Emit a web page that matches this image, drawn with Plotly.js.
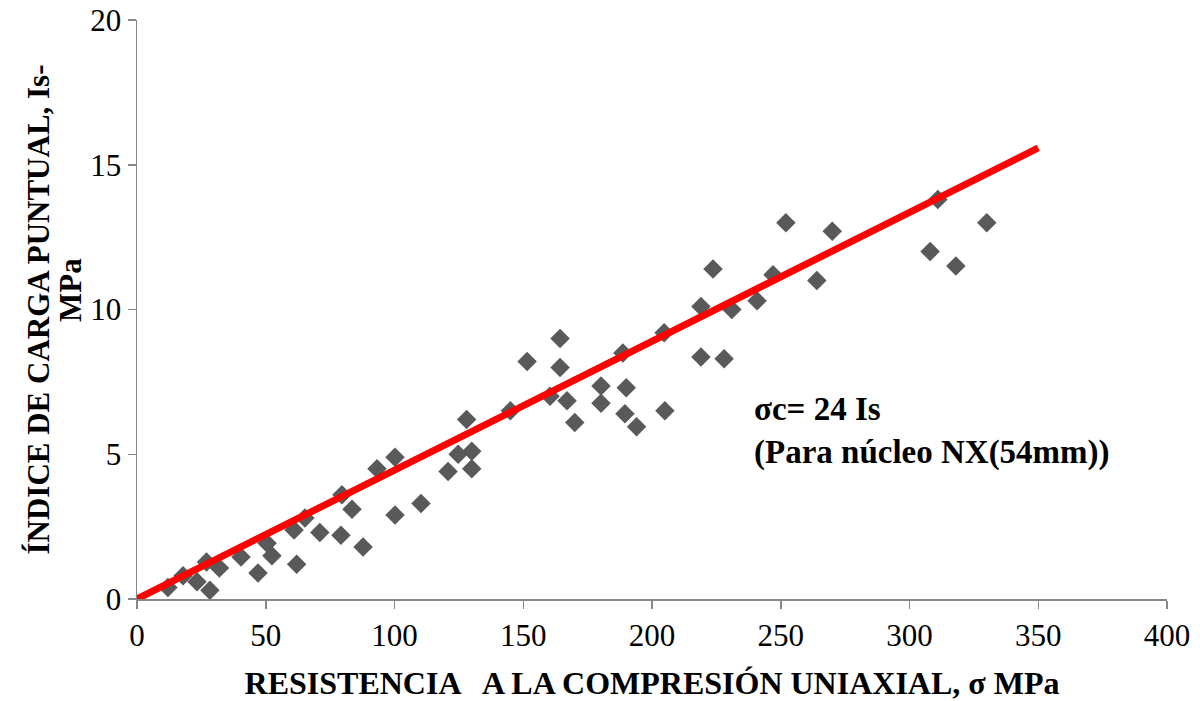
<!DOCTYPE html>
<html>
<head>
<meta charset="utf-8">
<script src="https://cdn.plot.ly/plotly-3.0.1.min.js"></script>
<style>html,body{margin:0;padding:0;background:#fff;}#chart{width:1200px;height:701px;}</style>
</head>
<body>
<div id="chart"></div>
<script>
// Data
var ucs = [12, 17.9, 23.3, 27, 28.3, 32, 40.4, 47, 50.5, 52.4, 62, 61, 65.2, 71,
  79.2, 87.8, 79.6, 83.5, 93.2, 100.2, 100.2, 110.3, 120.8, 124.7, 130, 130, 128, 145,
  151.5, 164.3, 164.3, 160.4, 167, 170, 180.2, 180.2, 188.7, 190, 189.5, 194, 205, 204.7,
  219, 223.7, 231, 219, 228, 240.8, 247, 252, 264, 270,
  311, 308, 318, 330];
var isValues = [0.4, 0.8, 0.6, 1.28, 0.3, 1.07, 1.45, 0.9, 1.93, 1.49, 1.2, 2.38, 2.8, 2.3,
  2.2, 1.8, 3.6, 3.1, 4.5, 4.9, 2.9, 3.3, 4.4, 5.0, 5.1, 4.5, 6.2, 6.5,
  8.2, 9.0, 8.0, 7.0, 6.85, 6.1, 7.36, 6.76, 8.5, 7.3, 6.4, 5.95, 6.5, 9.2,
  10.1, 11.4, 10.0, 8.36, 8.3, 10.3, 11.2, 13.0, 11.0, 12.7,
  13.8, 12.0, 11.5, 13.0];
var fitX = [0, 350];
var fitY = [0, 15.58];
var xTicks = [0, 50, 100, 150, 200, 250, 300, 350, 400];
var yTicks = [0, 5, 10, 15, 20];
var yTitleLine1 = 'ÍNDICE DE CARGA PUNTUAL, Is-';
var yTitleLine2 = 'MPa';

var serif = 'Times New Roman';

var traces = [
  {x: ucs, y: isValues, type: 'scatter', mode: 'markers',
   marker: {symbol: 'diamond', size: 15, color: '#595959'}, showlegend: false, hoverinfo: 'x+y'},
  {x: fitX, y: fitY, type: 'scatter', mode: 'lines',
   line: {color: '#ff0000', width: 7}, showlegend: false}
];

var layout = {
  width: 1200, height: 701,
  margin: {l: 137, r: 33, t: 20, b: 102},
  paper_bgcolor: '#fff', plot_bgcolor: '#fff',
  font: {family: serif, size: 31, color: '#000'},
  xaxis: {
    range: [0, 400], tickvals: xTicks, ticktext: xTicks.map(String),
    showgrid: false, zeroline: false, showline: true, linecolor: '#868686', linewidth: 1.5,
    ticks: 'outside', ticklen: 8, tickcolor: '#868686', tickwidth: 1.5,
    tickfont: {family: serif, size: 31, color: '#000'},
    title: {text: 'RESISTENCIA   A LA COMPRESIÓN UNIAXIAL, σ MPa',
            font: {family: serif, size: 32, color: '#000', weight: 'bold'}, standoff: 20}
  },
  yaxis: {
    range: [0, 20], tickvals: yTicks, ticktext: yTicks.map(String),
    showgrid: false, zeroline: false, showline: true, linecolor: '#868686', linewidth: 1.5,
    ticks: 'outside', ticklen: 8, tickcolor: '#868686', tickwidth: 1.5,
    tickfont: {family: serif, size: 31, color: '#000'},
    title: {text: yTitleLine1,
            font: {family: serif, size: 31, color: '#000', weight: 'bold'}, standoff: 31}
  },
  annotations: [{
    xref: 'paper', yref: 'paper', x: (752 - 137) / 1030, y: (599 - 431) / 579,
    xanchor: 'left', yanchor: 'middle', align: 'left', showarrow: false,
    text: '<b>σc= 24 Is</b><br><b>(Para núcleo NX(54mm))</b>',
    font: {family: serif, size: 33, color: '#000'}
  }, {
    xref: 'paper', yref: 'paper', x: (70 - 137) / 1030, y: (599 - 290) / 579,
    xanchor: 'center', yanchor: 'middle', textangle: -90, showarrow: false,
    text: '<b>' + yTitleLine2 + '</b>',
    font: {family: serif, size: 31, color: '#000'}
  }]
};

Plotly.newPlot('chart', traces, layout, {displayModeBar: false, staticPlot: true});
</script>
</body>
</html>
